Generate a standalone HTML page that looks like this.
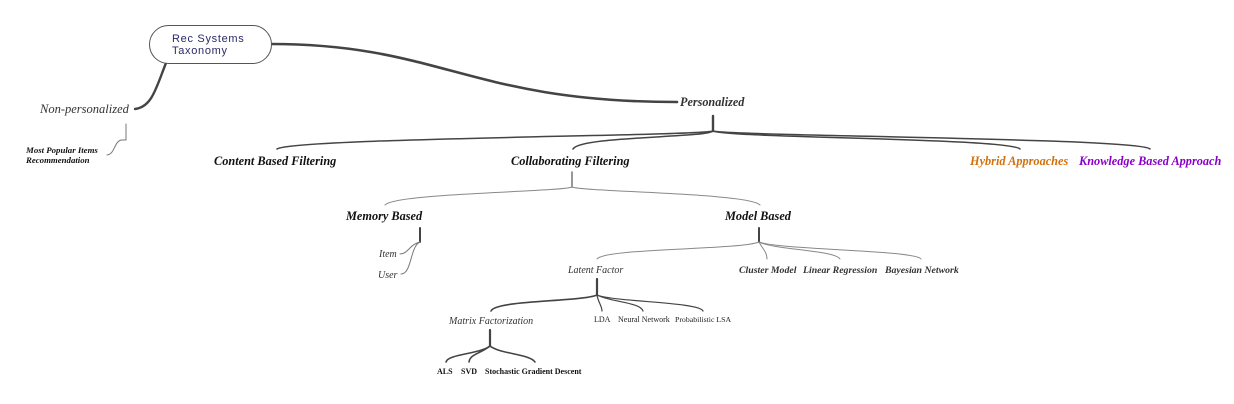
<!DOCTYPE html>
<html><head><meta charset="utf-8"><style>
html,body{margin:0;padding:0;background:#fff;width:1234px;height:404px;overflow:hidden}
svg text{font-family:"Liberation Serif",serif}
</style></head><body>
<svg width="1234" height="404" viewBox="0 0 1234 404" xmlns="http://www.w3.org/2000/svg">
<g fill="none" stroke="#444" stroke-linecap="round">
<path d="M271,44 C440,44 470,102 677,102" stroke-width="2.6"/>
<path d="M166,63 C156,88 152,107 135,109" stroke-width="2.4"/>
<path d="M126,124 V140 H121 C114,142 115,154 107,155" stroke-width="1" stroke="#777"/>
<path d="M713,116 V131" stroke-width="2.4"/>
<path d="M713,131 C700,136 290,138 277,149" stroke-width="1.5"/>
<path d="M713,131 C705,138 580,136 573,149" stroke-width="1.5"/>
<path d="M713,131 C725,138 1010,138 1020,149" stroke-width="1.5"/>
<path d="M713,131 C730,136 1140,138 1150,149" stroke-width="1.5"/>
<path d="M572,172 V187" stroke-width="1.5" stroke="#777"/>
<path d="M572,187 C560,192 395,193 385,205" stroke-width="1" stroke="#888"/>
<path d="M572,187 C585,192 750,193 760,205" stroke-width="1" stroke="#888"/>
<path d="M420,228 V242" stroke-width="2"/>
<path d="M420,242 C410,244 408,254 400,254" stroke-width="1" stroke="#777"/>
<path d="M420,242 C410,246 412,274 401,274" stroke-width="1" stroke="#777"/>
<path d="M759,228 V242" stroke-width="2"/>
<path d="M759,242 C740,250 605,248 597,259" stroke-width="1" stroke="#888"/>
<path d="M759,242 C762,248 767,252 767,259" stroke-width="1" stroke="#888"/>
<path d="M759,242 C775,250 835,250 840,259" stroke-width="1" stroke="#888"/>
<path d="M759,242 C780,250 915,250 921,259" stroke-width="1" stroke="#888"/>
<path d="M597,279 V295" stroke-width="2.2"/>
<path d="M597,295 C580,302 495,300 491,311" stroke-width="1.6"/>
<path d="M597,295 C598,302 602,306 602,311" stroke-width="1.2"/>
<path d="M597,295 C610,302 640,302 643,311" stroke-width="1.2"/>
<path d="M597,295 C615,302 700,302 703,311" stroke-width="1.2"/>
<path d="M490,330 V346" stroke-width="2.2"/>
<path d="M490,346 C480,354 448,354 446,362" stroke-width="1.6"/>
<path d="M490,346 C480,354 470,354 469,362" stroke-width="1.6"/>
<path d="M490,346 C500,354 530,354 535,362" stroke-width="1.6"/>
</g>
<rect x="149.5" y="25.5" width="122" height="38" rx="19" fill="#fff" stroke="#555" stroke-width="1"/>
<text x="172" y="42" style="font-family:'Liberation Sans',sans-serif;letter-spacing:0.7px" font-size="11" fill="#2a2a6a">Rec Systems</text>
<text x="172" y="54" style="font-family:'Liberation Sans',sans-serif;letter-spacing:0.7px" font-size="11" fill="#2a2a6a">Taxonomy</text>
<g font-style="italic" fill="#333">
<text x="40" y="113" font-size="12.5">Non-personalized</text>
<text x="680" y="106" font-size="12.2" font-weight="bold">Personalized</text>
<text x="26" y="153" font-size="8.8" font-weight="bold" fill="#111">Most Popular Items</text>
<text x="26" y="163" font-size="8.8" font-weight="bold" fill="#111">Recommendation</text>
<text x="214" y="165" font-size="12.3" font-weight="bold" fill="#111">Content Based Filtering</text>
<text x="511" y="165" font-size="12.3" font-weight="bold" fill="#111">Collaborating Filtering</text>
<text x="970" y="165" font-size="12.3" font-weight="bold" fill="#d4700a">Hybrid Approaches</text>
<text x="1079" y="165" font-size="12.3" font-weight="bold" fill="#8a00c8">Knowledge Based Approach</text>
<text x="346" y="220" font-size="12.3" font-weight="bold" fill="#111">Memory Based</text>
<text x="725" y="220" font-size="12.3" font-weight="bold" fill="#111">Model Based</text>
<text x="379" y="257" font-size="10">Item</text>
<text x="378" y="278" font-size="10">User</text>
<text x="568" y="273" font-size="10">Latent Factor</text>
<text x="739" y="273" font-size="9.8" font-weight="bold">Cluster Model</text>
<text x="803" y="273" font-size="9.8" font-weight="bold">Linear Regression</text>
<text x="885" y="273" font-size="9.8" font-weight="bold">Bayesian Network</text>
<text x="449" y="324" font-size="10">Matrix Factorization</text>
</g>
<g font-size="8" fill="#222">
<text x="594" y="322">LDA</text>
<text x="618" y="322">Neural Network</text>
<text x="675" y="322" font-size="7.8">Probabilistic LSA</text>
<g font-weight="bold" fill="#111">
<text x="437" y="374">ALS</text>
<text x="461" y="374">SVD</text>
<text x="485" y="374">Stochastic Gradient Descent</text>
</g>
</g>
</svg>
</body></html>
